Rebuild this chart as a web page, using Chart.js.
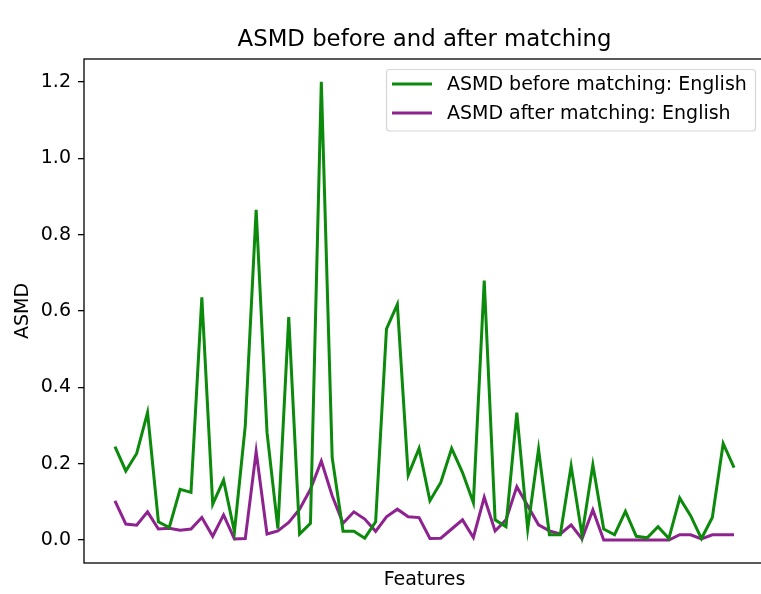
<!DOCTYPE html>
<html>
<head>
<meta charset="utf-8">
<script src="https://cdn.jsdelivr.net/npm/chart.js@4.4.0/dist/chart.umd.min.js"></script>
<style>
  html, body { margin:0; padding:0; background:#fff; overflow:hidden; }
  #wrap { position:absolute; left:0; top:0; width:770px; height:594px; }
</style>
</head>
<body>
<div id="wrap"><canvas id="c"></canvas></div>
<script>
const chartTitle = "ASMD before and after matching";
const xTitle = "Features";
const yTitle = "ASMD";
const seriesNames = ["ASMD before matching: English", "ASMD after matching: English"];
const yTicks = [0.0, 0.2, 0.4, 0.6, 0.8, 1.0, 1.2];

const before = [0.245, 0.181, 0.227, 0.334, 0.048, 0.033, 0.133, 0.125, 0.636, 0.094,
                0.157, 0.022, 0.300, 0.865, 0.282, 0.030, 0.584, 0.016, 0.044, 1.200,
                0.216, 0.023, 0.023, 0.005, 0.048, 0.553, 0.617, 0.170, 0.240, 0.103,
                0.151, 0.240, 0.177, 0.098, 0.680, 0.053, 0.035, 0.334, 0.029, 0.238,
                0.014, 0.014, 0.194, 0.013, 0.197, 0.029, 0.014, 0.075, 0.010, 0.006,
                0.035, 0.004, 0.110, 0.064, 0.004, 0.059, 0.253, 0.190];
const after  = [0.103, 0.042, 0.039, 0.074, 0.029, 0.031, 0.026, 0.029, 0.059, 0.010,
                0.066, 0.003, 0.004, 0.232, 0.016, 0.024, 0.046, 0.081, 0.133, 0.207,
                0.116, 0.044, 0.074, 0.055, 0.023, 0.061, 0.081, 0.061, 0.059, 0.004,
                0.005, 0.029, 0.053, 0.007, 0.112, 0.024, 0.053, 0.140, 0.090, 0.040,
                0.024, 0.016, 0.040, 0.003, 0.079, 0.000, 0.000, 0.000, 0.000, 0.000,
                0.000, 0.000, 0.014, 0.014, 0.003, 0.014, 0.014, 0.014];
const features = before.map((_, i) => i);

const GREEN = '#0b8a0b';
const PURPLE = '#8e2390';
const FONT = '"DejaVu Sans", sans-serif';
const SMALL = 19;
const BIG = 22.8;

const n = features.length;
const xMargin = (n - 1) * 0.05;
const yMargin = 1.2 * 0.05;

const textPlugin = {
  id: 'textPlugin',
  afterDraw(chart) {
    const ctx = chart.ctx;
    const a = chart.chartArea;
    ctx.save();
    // frame
    ctx.strokeStyle = '#000';
    ctx.lineWidth = 1.3;
    ctx.strokeRect(a.left, a.top, a.right - a.left, a.bottom - a.top);
    // title
    ctx.fillStyle = '#000';
    ctx.font = BIG + 'px ' + FONT;
    ctx.textAlign = 'center';
    ctx.textBaseline = 'middle';
    ctx.fillText(chartTitle, (a.left + a.right) / 2, 40);
    // axis titles
    ctx.font = SMALL + 'px ' + FONT;
    ctx.fillText(xTitle, (a.left + a.right) / 2, 580);
    ctx.save();
    ctx.translate(23, (a.top + a.bottom) / 2);
    ctx.rotate(-Math.PI / 2);
    ctx.fillText(yTitle, 0, 0);
    ctx.restore();
    // legend
    const lx = 386.5, ly = 69.5, lw = 369, lh = 61.5, r = 3;
    ctx.beginPath();
    ctx.moveTo(lx + r, ly);
    ctx.lineTo(lx + lw - r, ly);
    ctx.arcTo(lx + lw, ly, lx + lw, ly + r, r);
    ctx.lineTo(lx + lw, ly + lh - r);
    ctx.arcTo(lx + lw, ly + lh, lx + lw - r, ly + lh, r);
    ctx.lineTo(lx + r, ly + lh);
    ctx.arcTo(lx, ly + lh, lx, ly + lh - r, r);
    ctx.lineTo(lx, ly + r);
    ctx.arcTo(lx, ly, lx + r, ly, r);
    ctx.closePath();
    ctx.fillStyle = 'rgba(255,255,255,0.8)';
    ctx.fill();
    ctx.strokeStyle = '#d6d6d6';
    ctx.lineWidth = 1.2;
    ctx.stroke();
    const rows = [84, 113];
    chart.data.datasets.forEach((ds, i) => {
      ctx.strokeStyle = ds.borderColor;
      ctx.lineWidth = ds.borderWidth;
      ctx.beginPath();
      ctx.moveTo(392, rows[i]);
      ctx.lineTo(432, rows[i]);
      ctx.stroke();
      ctx.fillStyle = '#000';
      ctx.textAlign = 'left';
      ctx.textBaseline = 'middle';
      ctx.font = SMALL + 'px ' + FONT;
      ctx.fillText(ds.label, 447, rows[i] + 1);
    });
    ctx.restore();
  }
};

new Chart(document.getElementById('c'), {
  type: 'line',
  data: {
    datasets: [
      { label: seriesNames[0], data: features.map((x, i) => ({x, y: before[i]})),
        borderColor: GREEN, backgroundColor: GREEN, borderWidth: 3, pointRadius: 0, tension: 0, fill: false },
      { label: seriesNames[1], data: features.map((x, i) => ({x, y: after[i]})),
        borderColor: PURPLE, backgroundColor: PURPLE, borderWidth: 3, pointRadius: 0, tension: 0, fill: false }
    ]
  },
  options: {
    responsive: true,
    maintainAspectRatio: false,
    animation: false,
    devicePixelRatio: 1,
    layout: { padding: { top: 59, right: 5, bottom: 0, left: 0 } },
    plugins: { legend: { display: false }, tooltip: { enabled: false }, title: { display: false } },
    scales: {
      x: {
        type: 'linear',
        min: -xMargin, max: (n - 1) + xMargin,
        grid: { display: false },
        border: { display: false },
        ticks: { display: false },
        afterFit(s) { s.height = 31; }
      },
      y: {
        type: 'linear',
        min: -yMargin, max: 1.2 + yMargin,
        afterBuildTicks(s) { s.ticks = yTicks.map(v => ({ value: v })); },
        grid: { display: true, drawOnChartArea: false, drawTicks: true, tickLength: 6, color: '#000', lineWidth: 1.3 },
        border: { display: false },
        ticks: {
          color: '#000', padding: 7,
          font: { family: FONT, size: SMALL },
          callback: v => Number(v).toFixed(1)
        },
        afterFit(s) { s.width = 84; }
      }
    }
  },
  plugins: [textPlugin]
});
</script>
</body>
</html>
